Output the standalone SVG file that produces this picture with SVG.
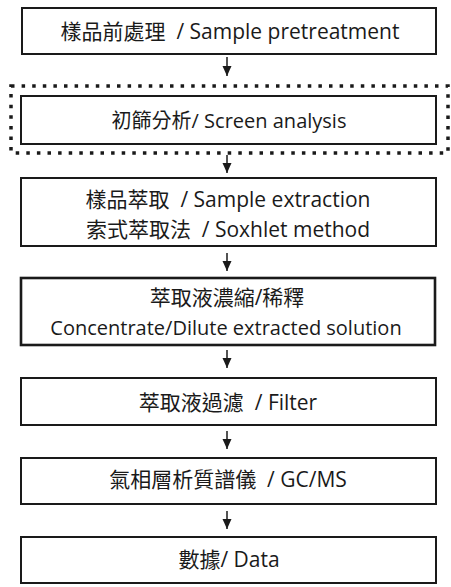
<svg xmlns="http://www.w3.org/2000/svg" width="451" height="587" viewBox="0 0 451 587">
<defs>
<style>
.box{fill:#fff;stroke:#1a1a1a;stroke-width:2}
.thick{stroke-width:2.6}
.lbl{font-family:"Open Sans","Noto Sans CJK TC",sans-serif;font-size:21px;fill:#1a1a1a;text-anchor:middle;dominant-baseline:central;white-space:pre}
.sm{font-size:20px}
.con{stroke:#1a1a1a;stroke-width:1.5;fill:none;marker-end:url(#ah)}
.dots{fill:none;stroke:#1a1a1a;stroke-width:3.5;stroke-dasharray:3.5 7.1}
</style>
<marker id="ah" markerUnits="userSpaceOnUse" markerWidth="10" markerHeight="10" viewBox="0 0 10 10" refX="10" refY="5" orient="auto">
<path d="M0,0.5 L10,5 L0,9.5 z" fill="#1a1a1a"/>
</marker>
</defs>
<rect width="451" height="587" fill="#fff"/>
<g id="n1"><rect class="box" x="22" y="8" width="414" height="46"/><text class="lbl" x="230" y="31" xml:space="preserve">樣品前處理  / Sample pretreatment</text></g>
<g id="screen-group"><rect class="dots" x="11" y="86" width="437" height="67"/></g>
<g id="n2"><rect class="box" x="21" y="96" width="415" height="48"/><text class="lbl sm" x="229" y="120">初篩分析/ Screen analysis</text></g>
<g id="n3"><rect class="box" x="21" y="178" width="415" height="68"/><text class="lbl" xml:space="preserve"><tspan x="228" y="199">樣品萃取  / Sample extraction</tspan><tspan x="228" y="229">索式萃取法  / Soxhlet method</tspan></text></g>
<g id="n4"><rect class="box thick" x="21" y="278" width="414" height="67"/><text class="lbl"><tspan x="227" y="297">萃取液濃縮/稀釋</tspan><tspan class="sm" x="226" y="327">Concentrate/Dilute extracted solution</tspan></text></g>
<g id="n5"><rect class="box" x="21" y="378" width="415" height="47"/><text class="lbl" x="228" y="402" xml:space="preserve">萃取液過濾  / Filter</text></g>
<g id="n6"><rect class="box" x="21" y="458" width="415" height="46"/><text class="lbl" x="228" y="479" xml:space="preserve">氣相層析質譜儀  / GC/MS</text></g>
<g id="n7"><rect class="box" x="21" y="537" width="415" height="46"/><text class="lbl" x="229" y="559">數據/ Data</text></g>
<g id="connectors">
<path class="con" d="M227,57 V76"/>
<path class="con" d="M227,155 V173"/>
<path class="con" d="M227,253 V271"/>
<path class="con" d="M227,350 V368"/>
<path class="con" d="M227,431 V449"/>
<path class="con" d="M227,511 V529"/>
</g>
</svg>
